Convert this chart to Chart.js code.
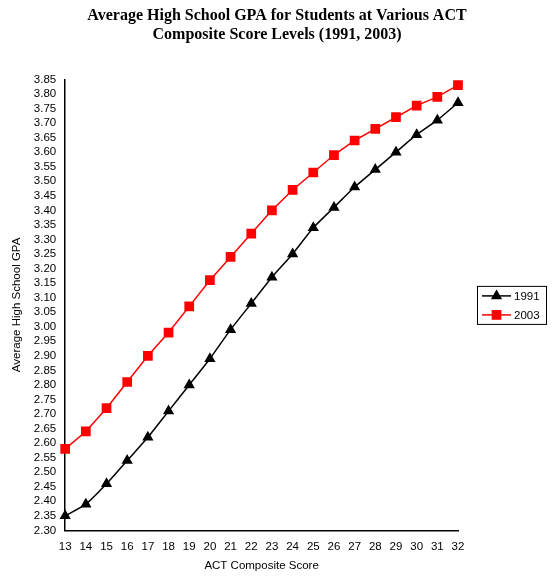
<!DOCTYPE html>
<html>
<head>
<meta charset="utf-8">
<script src="https://cdn.jsdelivr.net/npm/chart.js@4"></script>
<style>
  html, body { margin: 0; padding: 0; background: #fff; }
  #wrap { width: 554px; height: 578px; position: relative; }
</style>
</head>
<body>
<div id="wrap"><canvas id="gpaChart"></canvas></div>
<script>
var scores = ['13', '14', '15', '16', '17', '18', '19', '20', '21', '22', '23', '24', '25', '26', '27', '28', '29', '30', '31', '32'];
var gpa1991 = [2.35, 2.39, 2.46, 2.54, 2.62, 2.71, 2.80, 2.89, 2.99, 3.08, 3.17, 3.25, 3.34, 3.41, 3.48, 3.54, 3.60, 3.66, 3.71, 3.77];
var gpa2003 = [2.58, 2.64, 2.72, 2.81, 2.90, 2.98, 3.07, 3.16, 3.24, 3.32, 3.40, 3.47, 3.53, 3.59, 3.64, 3.68, 3.72, 3.76, 3.79, 3.83];
var yMin = 2.30;
var yMax = 3.85;
var yStep = 0.05;

var sansFont = '"Liberation Sans", Arial, sans-serif';

// legend box drawn by hand so it gets the line + marker look and a border
var boxedLegend = {
    id: 'boxedLegend',
    afterDraw: function (chart) {
        var ctx = chart.ctx;
        var area = chart.chartArea;
        var sets = chart.data.datasets;
        var rowH = 19;
        var w = 69, h = sets.length * rowH;
        var left = area.right + 19;
        var top = (area.top + area.bottom) / 2 - h / 2;
        ctx.save();
        ctx.strokeStyle = '#000';
        ctx.lineWidth = 1;
        ctx.strokeRect(left + 0.5, top + 0.5, w, h);
        ctx.font = '11.5px ' + sansFont;
        ctx.textBaseline = 'middle';
        ctx.textAlign = 'left';
        sets.forEach(function (ds, i) {
            var cy = top + rowH * i + rowH / 2 + 0.5;
            ctx.strokeStyle = ds.borderColor;
            ctx.lineWidth = 1.5;
            ctx.beginPath();
            ctx.moveTo(left + 5, cy);
            ctx.lineTo(left + 34, cy);
            ctx.stroke();
            ctx.fillStyle = ds.pointBackgroundColor;
            ctx.strokeStyle = ds.pointBorderColor;
            Chart.helpers.drawPoint(ctx, {
                pointStyle: ds.pointStyle,
                radius: ds.pointRadius,
                rotation: 0,
                borderWidth: 1
            }, left + 19.5, cy);
            ctx.fillStyle = '#000';
            ctx.fillText(ds.label, left + 37, cy + 1);
        });
        ctx.restore();
    }
};

var ctx = document.getElementById('gpaChart').getContext('2d');
var gpaChart = new Chart(ctx, {
    type: 'line',
    data: {
        labels: scores,
        datasets: [{
            label: '1991',
            data: gpa1991,
            borderColor: '#000000',
            borderWidth: 1.5,
            pointStyle: 'triangle',
            pointRadius: 5,
            pointBackgroundColor: '#000000',
            pointBorderColor: '#000000',
            tension: 0.2
        }, {
            label: '2003',
            data: gpa2003,
            borderColor: '#ff0000',
            borderWidth: 1.5,
            pointStyle: 'rect',
            pointRadius: 5.8,
            pointBackgroundColor: '#ff0000',
            pointBorderColor: '#ff0000',
            tension: 0
        }]
    },
    options: {
        responsive: true,
        maintainAspectRatio: false,
        animation: false,
        layout: {
            padding: { top: 4, right: 0, bottom: 5, left: 0 }
        },
        plugins: {
            legend: { display: false },
            tooltip: { enabled: false },
            title: {
                display: true,
                text: ['Average High School GPA for Students at Various ACT', 'Composite Score Levels (1991, 2003)'],
                color: '#000',
                font: { family: '"Liberation Serif", "Times New Roman", serif', size: 16, weight: 'bold', lineHeight: 1.2 },
                padding: { top: 2, bottom: 35 }
            }
        },
        scales: {
            x: {
                grid: { display: false, drawTicks: false },
                border: { display: true, color: '#000', width: 1.5 },
                ticks: {
                    color: '#000',
                    font: { family: sansFont, size: 11.5 },
                    padding: 10,
                    maxRotation: 0,
                    autoSkip: false
                },
                title: {
                    display: true,
                    text: 'ACT Composite Score',
                    color: '#000',
                    font: { family: sansFont, size: 11.5 },
                    padding: { top: -5, bottom: 0 }
                }
            },
            y: {
                min: yMin,
                max: yMax,
                grid: { display: false, drawTicks: false },
                border: { display: true, color: '#000', width: 1.5 },
                ticks: {
                    stepSize: yStep,
                    autoSkip: false,
                    color: '#000',
                    padding: 9,
                    font: { family: sansFont, size: 11.5 },
                    callback: function (v) { return Number(v).toFixed(2); }
                },
                title: {
                    display: true,
                    text: 'Average High School GPA',
                    color: '#000',
                    font: { family: sansFont, size: 11.5 },
                    padding: { top: 10, bottom: 1 }
                }
            },
            // empty right-hand axis, only reserves the room the legend box sits in
            legendRoom: {
                type: 'linear',
                position: 'right',
                display: true,
                grid: { display: false, drawTicks: false },
                border: { display: false },
                ticks: { display: false },
                afterFit: function (scale) { scale.width = 96; }
            }
        }
    },
    plugins: [boxedLegend]
});
</script>
</body>
</html>
